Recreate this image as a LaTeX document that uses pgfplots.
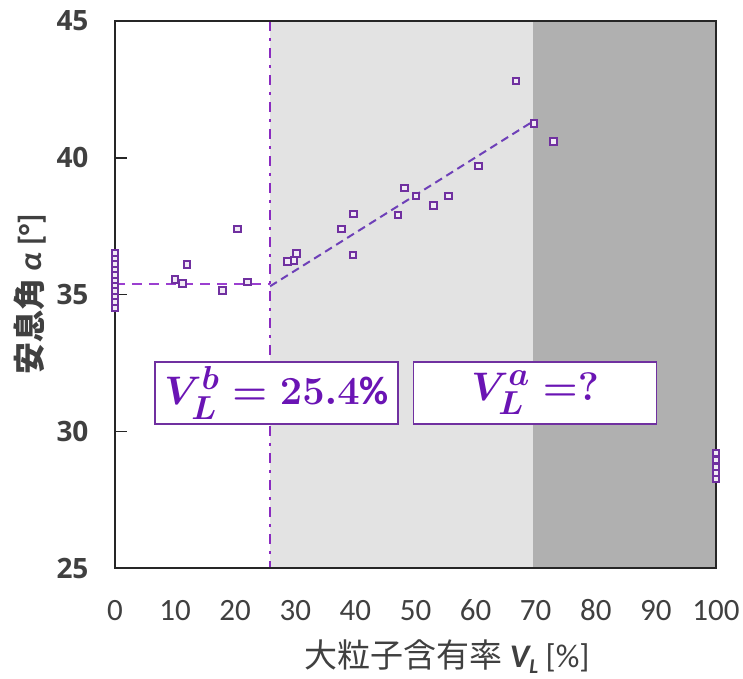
\documentclass[border=0pt]{standalone}
\usepackage{amsmath,bm}
\usepackage{fontspec}
\setmainfont{Carlito}
\newfontfamily\cjk{Noto Sans CJK JP}
\newfontfamily\osans{Open Sans}
\usepackage{pgfplots}
\pgfplotsset{compat=1.18}

\definecolor{pur}{HTML}{7030A0}
\definecolor{ptxt}{HTML}{6A14B4}
\definecolor{pline}{HTML}{9B3FD0}
\definecolor{vline}{HTML}{8A2BC0}
\definecolor{tline}{HTML}{6E40B8}
\definecolor{lg}{HTML}{E3E3E3}
\definecolor{dg}{HTML}{B0B0B0}
\definecolor{tk}{HTML}{404040}

\pgfplotstableread{
x y
0 36.5
0 36.3
0 36.1
0 35.9
0 35.7
0 35.5
0 35.3
0 35.1
0 34.9
0 34.7
0 34.5
10.0 35.55
11.2 35.4
12.0 36.1
17.9 35.15
20.4 37.4
22.0 35.45
28.7 36.2
29.8 36.25
30.2 36.5
37.7 37.4
39.7 37.95
39.6 36.45
47.1 37.9
48.2 38.9
50.1 38.6
53.0 38.25
55.5 38.6
60.5 39.7
66.7 42.8
69.7 41.25
73.0 40.6
100 29.2
100 28.95
100 28.7
100 28.45
100 28.25
}\pts

\begin{document}
\begin{tikzpicture}
\begin{axis}[
  at={(0,0)}, anchor=south west,
  scale only axis, width=601pt, height=547pt,
  xmin=0, xmax=100, ymin=25, ymax=45,
  xtick={0,10,...,100}, ytick={25,30,...,45},
  axis on top, clip=false,
  axis line style={draw=black!85, line width=1.5pt},
  ytick pos=left, tick align=inside, major tick length=12pt,
  xtick style={draw=none}, ytick style={draw=black!85, line width=1.5pt},
  /pgf/number format/assume math mode=true,
  yticklabel style={font=\fontsize{28}{28}\selectfont\osans\bfseries, text=tk, xshift=-23pt},
  xticklabel style={font=\fontsize{31}{31}\selectfont, text=tk, anchor=base, yshift=-52pt},
]
\addplot[fill=lg, draw=none] coordinates {(25.8,25) (69.6,25) (69.6,45) (25.8,45)} -- cycle;
\addplot[fill=dg, draw=none] coordinates {(69.6,25) (100,25) (100,45) (69.6,45)} -- cycle;
\addplot[pline, line width=2pt, dash pattern=on 10pt off 7pt] coordinates {(0,35.4) (25.8,35.4)};
\addplot[vline, line width=2.5pt, dash pattern=on 10pt off 7pt on 3pt off 7pt] coordinates {(25.8,45) (25.8,25)};
\addplot[tline, line width=2pt, dash pattern=on 8pt off 5pt] coordinates {(25.8,35.3) (69.7,41.35)};
\addplot[only marks, mark=square*, mark size=3.3pt, mark options={draw=pur, fill=pur!10, line width=2pt}] table {\pts};

\node[draw=pur, line width=1.5pt, fill=white, minimum width=243pt, minimum height=62pt, text=ptxt, inner sep=0pt]
  at (axis cs:26.9,31.4) {\scalebox{1.6}{\fontsize{24.88}{30}\selectfont\boldmath $V_L^b = 25.4\%$}};
\node[draw=pur, line width=1.5pt, fill=white, minimum width=243pt, minimum height=62pt, text=ptxt, inner sep=0pt]
  at (axis cs:69.9,31.4) {\scalebox{1.6}{\fontsize{24.88}{30}\selectfont\boldmath $V_L^a =?$}};
\end{axis}
\node[rotate=90, text=tk, font=\fontsize{32}{32}\selectfont] at (-85pt,273.5pt)
  {{\cjk\bfseries 安息角} {\bfseries\itshape α} {\bfseries [°]}};
\node[text=tk, font=\fontsize{33}{33}\selectfont] at (332pt,-89pt)
  {{\cjk 大粒子含有率} {\bfseries\itshape V}\raisebox{-6pt}{\fontsize{21}{21}\selectfont\bfseries\itshape L} [\%]};
\pgfresetboundingbox
\path (-115pt,-110pt) rectangle (628pt,568pt);
\end{tikzpicture}
\end{document}
